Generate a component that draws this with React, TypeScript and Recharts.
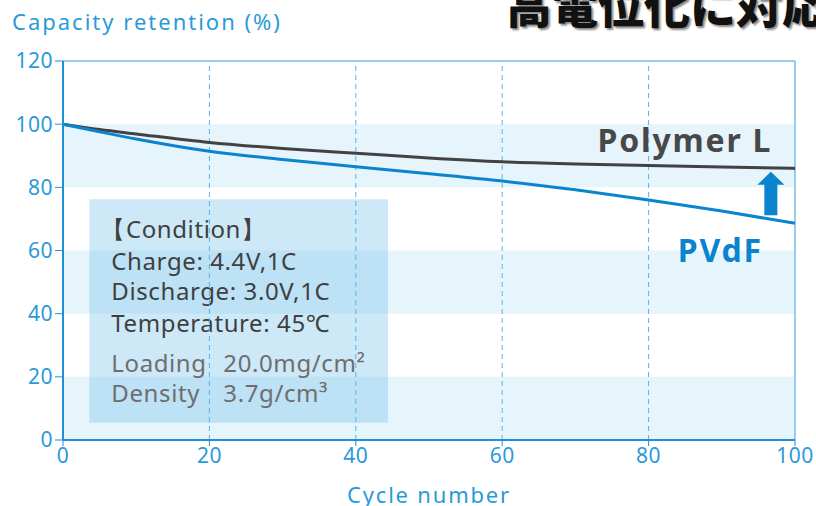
import {
  LineChart, Line, XAxis, YAxis, ReferenceArea, ReferenceLine, ReferenceDot, Label,
} from "recharts";

const CYCLES = [0, 5, 10, 20, 30, 40, 50, 60, 70, 80, 90, 100];
const POLYMER_L = [100, 98.3, 96.9, 94.2, 92.3, 90.8, 89.3, 88.1, 87.4, 86.9, 86.4, 86.0];
const PVDF = [100, 97.6, 95.3, 91.4, 88.8, 86.5, 84.3, 82.0, 79.2, 76.0, 72.5, 68.6];

const X_TICKS = [0, 20, 40, 60, 80, 100];
const Y_TICKS = [0, 20, 40, 60, 80, 100, 120];
const BANDS = [[80, 100], [40, 60], [0, 20]];

const CONDITION = [
  { label: "【Condition】", value: "", dim: false },
  { label: "Charge: 4.4V,1C", value: "", dim: false },
  { label: "Discharge: 3.0V,1C", value: "", dim: false },
  { label: "Temperature: 45℃", value: "", dim: false },
  { label: "Loading", value: "20.0mg/cm²", dim: true },
  { label: "Density", value: "3.7g/cm³", dim: true },
];

const data = CYCLES.map((c, i) => ({ cycle: c, polymer: POLYMER_L[i], pvdf: PVDF[i] }));

const BLUE = "#1f8fd6";
const TEXT_BLUE = "#2a9ad8";
const FONT = "'Noto Sans', 'Open Sans', sans-serif";

function ConditionLabel({ viewBox }: any) {
  if (!viewBox) return null;
  const { x, y } = viewBox;
  const baselines = [39, 71, 101, 133, 173, 203];
  return (
    <g fontFamily={FONT} fontSize={24} letterSpacing={0.6}>
      {CONDITION.map((row, i) => (
        <g key={i} fill={row.dim ? "#6e6e6e" : "#3f3f3f"}>
          <text x={x + (i === 0 ? 12 : 22)} y={y + baselines[i]}>{row.label}</text>
          {row.value && <text x={x + 134} y={y + baselines[i]}>{row.value}</text>}
        </g>
      ))}
    </g>
  );
}

function SeriesName({ viewBox, text, color }: any) {
  if (!viewBox) return null;
  return (
    <text x={viewBox.x} y={viewBox.y} textAnchor="end" fill={color} fontFamily={FONT}
      fontSize={32} fontWeight={700} letterSpacing={1.8}>
      {text}
    </text>
  );
}

function UpArrow(props: any) {
  const { x1, y1, y2 } = props;
  const top = Math.min(y1, y2);
  const bottom = Math.max(y1, y2);
  const head = 13;
  const pts = [
    [x1, top], [x1 + 13.5, top + head], [x1 + 6.5, top + head], [x1 + 6.5, bottom],
    [x1 - 6.5, bottom], [x1 - 6.5, top + head], [x1 - 13.5, top + head],
  ].map((p) => p.join(",")).join(" ");
  return <polygon points={pts} fill="#0b84d0" />;
}

export default function App() {
  return (
    <div style={{ position: "absolute", left: 0, top: 0, width: 816, height: 506, overflow: "hidden", background: "#fff" }}>
      <div style={{ position: "absolute", left: 12, top: 6, fontFamily: FONT, fontSize: 22, letterSpacing: 2, color: TEXT_BLUE }}>
        Capacity retention (%)
      </div>
      <div style={{
        position: "absolute", left: 506, top: -30, fontFamily: "'Noto Sans CJK JP', sans-serif", fontSize: 46,
        fontWeight: 900, color: "#111", whiteSpace: "nowrap", textShadow: "2px 2px 2px #888",
      }}>
        高電位化に対応
      </div>
      <LineChart width={816} height={506} data={data} margin={{ top: 61, right: 21, left: 0, bottom: 0 }}
        style={{ position: "absolute", left: 0, top: 0 }}>
        {BANDS.map(([a, b]) => (
          <ReferenceArea key={a} x1={0} x2={100} y1={a} y2={b} fill="#e6f4fc" fillOpacity={1} stroke="none" />
        ))}
        <ReferenceArea x1={3.6} x2={44.4} y1={5.5} y2={76.2} fill="#7cc2ea" fillOpacity={0.38} stroke="none"
          label={(p: any) => <ConditionLabel {...p} />} />
        {X_TICKS.filter((t) => t > 0 && t < 100).map((t) => (
          <ReferenceLine key={t} x={t} stroke="#5ab2e6" strokeDasharray="5 4" />
        ))}
        <ReferenceLine y={120} stroke="#79bce6" strokeWidth={1.5} />
        <ReferenceLine x={100} stroke="#79bce6" strokeWidth={1.5} />
        <XAxis dataKey="cycle" type="number" domain={[0, 100]} ticks={X_TICKS} height={66}
          axisLine={{ stroke: BLUE, strokeWidth: 2 }} tickLine={{ stroke: BLUE }} tickSize={6}
          tick={{ fill: TEXT_BLUE, fontSize: 21, fontFamily: FONT, letterSpacing: 0.5 }}>
          <Label value="Cycle number" position="insideBottom" offset={3} fill={TEXT_BLUE} fontSize={22}
            fontFamily={FONT} letterSpacing={1.8} />
        </XAxis>
        <YAxis type="number" domain={[0, 120]} ticks={Y_TICKS} width={63} interval={0}
          axisLine={{ stroke: BLUE, strokeWidth: 2 }} tickLine={{ stroke: BLUE }} tickSize={8} tickMargin={2}
          tick={{ fill: TEXT_BLUE, fontSize: 21, fontFamily: FONT, letterSpacing: 0.5 }} />
        <Line type="monotone" dataKey="polymer" stroke="#424242" strokeWidth={3} dot={false} isAnimationActive={false} />
        <Line type="monotone" dataKey="pvdf" stroke="#0b84d0" strokeWidth={3} dot={false} isAnimationActive={false} />
        <ReferenceLine segment={[{ x: 96.7, y: 71.2 }, { x: 96.7, y: 84.9 }]} shape={(p: any) => <UpArrow {...p} />} />
        <ReferenceDot x={96.9} y={91.2} r={0} stroke="none"
          label={(p: any) => <SeriesName {...p} text="Polymer L" color="#484848" />} />
        <ReferenceDot x={95.6} y={56.4} r={0} stroke="none"
          label={(p: any) => <SeriesName {...p} text="PVdF" color="#0b84d0" />} />
      </LineChart>
    </div>
  );
}
